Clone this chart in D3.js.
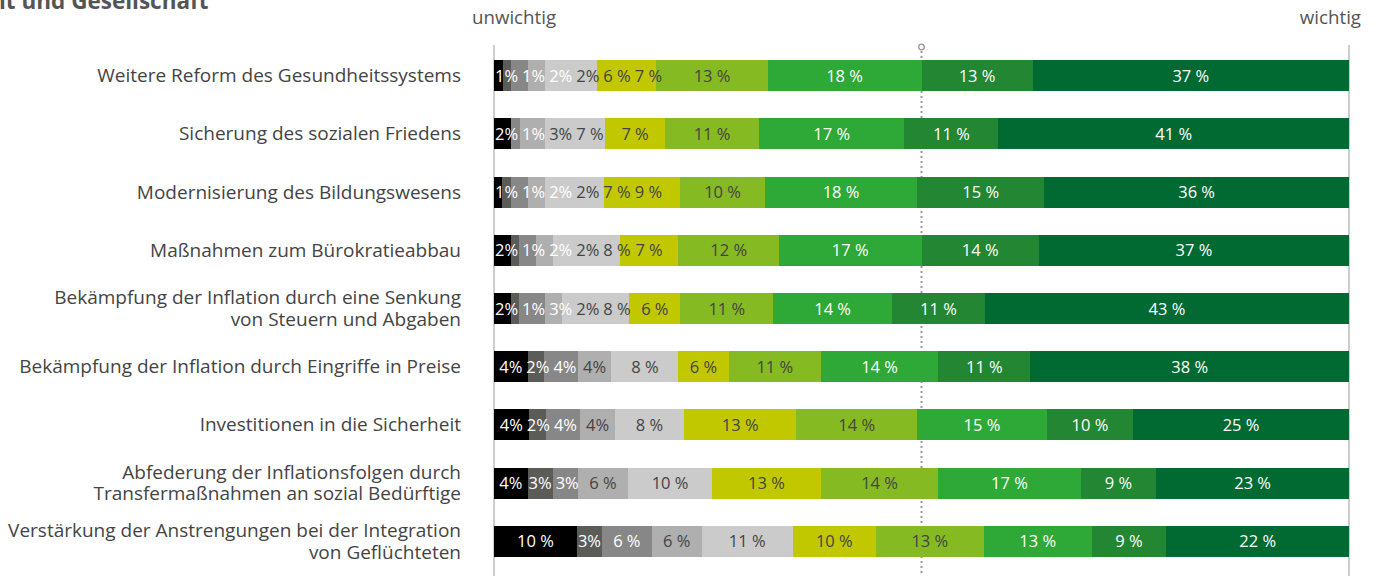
<!DOCTYPE html>
<html><head><meta charset="utf-8">
<script src="https://cdn.jsdelivr.net/npm/d3@7"></script>
<style>
html,body{margin:0;padding:0;background:#fff;}
svg{display:block;font-family:"Open Sans",sans-serif;}
</style></head>
<body><svg id="c" width="1379" height="576"></svg>
<script>
const categories = [
  "Weitere Reform des Gesundheitssystems",
  "Sicherung des sozialen Friedens",
  "Modernisierung des Bildungswesens",
  "Maßnahmen zum Bürokratieabbau",
  "Bekämpfung der Inflation durch eine Senkung\nvon Steuern und Abgaben",
  "Bekämpfung der Inflation durch Eingriffe in Preise",
  "Investitionen in die Sicherheit",
  "Abfederung der Inflationsfolgen durch\nTransfermaßnahmen an sozial Bedürftige",
  "Verstärkung der Anstrengungen bei der Integration\nvon Geflüchteten"
];
// scale points 1 (unwichtig) … 10 (wichtig), percent per row
const scalePoints = [1,2,3,4,5,6,7,8,9,10];
const row1 = [1,1,2,2,6,7,13,18,13,37];
const row2 = [2,0,1,3,7,7,11,17,11,41];
const row3 = [1,1,2,2,7,9,10,18,15,36];
const row4 = [2,1,2,2,8,7,12,17,14,37];
const row5 = [2,1,3,2,8,6,11,14,11,43];
const row6 = [4,2,4,4,8,6,11,14,11,38];
const row7 = [4,2,4,4,8,13,14,15,10,25];
const row8 = [4,3,3,6,10,13,14,17,9,23];
const row9 = [10,3,6,6,11,10,13,13,9,22];
const rows = [row1,row2,row3,row4,row5,row6,row7,row8,row9];
const colors = ["#000000","#5b5b58","#878787","#afafaf","#cacbca","#c2c800","#86ba22","#2ea836","#228633","#006a32"];
const textColors = ["#fff","#fff","#fff","#444","#444","#444","#444","#fff","#fff","#fff"];
const axisLabels = ["unwichtig","wichtig"];
const title = "it und Gesellschaft";

const svg = d3.select("#c");
const x = d3.scaleLinear().domain([0,100]).range([494,1349]);
const y = d3.scalePoint().domain(categories).range([46.4,570.6]).padding(0.5);
const barH = 31;

// title (cut at top-left, as in the source)
svg.append("text").attr("x",-1).attr("y",9).attr("font-size",22.5).attr("font-weight",700)
  .attr("fill","#555").text(title);

// axis end labels
svg.append("text").attr("x",472).attr("y",24).attr("font-size",18.7).attr("fill","#555").text(axisLabels[0]);
svg.append("text").attr("x",1361).attr("y",24).attr("text-anchor","end").attr("font-size",18.7).attr("fill","#555").text(axisLabels[1]);

// frame lines
svg.append("line").attr("x1",x(0)).attr("x2",x(0)).attr("y1",45).attr("y2",576).attr("stroke","#bdbdbd").attr("stroke-width",1.5);
svg.append("line").attr("x1",x(100)).attr("x2",x(100)).attr("y1",45).attr("y2",576).attr("stroke","#bdbdbd").attr("stroke-width",1.5);
// center dotted line
svg.append("line").attr("x1",x(50)).attr("x2",x(50)).attr("y1",51).attr("y2",576)
  .attr("stroke","#999").attr("stroke-width",2).attr("stroke-dasharray","2,3");
svg.append("circle").attr("cx",x(50)).attr("cy",47).attr("r",2.8).attr("fill","#fff").attr("stroke","#999").attr("stroke-width",1.3);

// row labels
categories.forEach(c => {
  const lines = c.split("\n");
  const lh = 21.5;
  lines.forEach((ln,i) => {
    svg.append("text").attr("text-anchor","end").attr("font-size",19).attr("fill","#444")
      .attr("x",461).attr("y", y(c) + 6.5 + (i - (lines.length-1)/2)*lh).text(ln);
  });
});

// bars
rows.forEach((vals, ri) => {
  const cat = categories[ri];
  const total = d3.sum(vals);
  let cum = 0;
  const segs = vals.map((v,i) => { const s = {v, i, x0: cum/total*100, x1: (cum+v)/total*100}; cum += v; return s; });
  const g = svg.append("g");
  g.selectAll("rect").data(segs).join("rect")
    .attr("x", d => x(d.x0)).attr("width", d => x(d.x1)-x(d.x0))
    .attr("y", y(cat)-barH/2).attr("height", barH)
    .attr("fill", d => colors[d.i]).attr("shape-rendering","crispEdges");
  let prevEnd = x(0) + 1;
  segs.filter(d => d.v > 0).forEach(d => {
    const w = x(d.x1)-x(d.x0);
    const txt = w >= 40 ? d.v + " %" : d.v + "%";
    const t = g.append("text").attr("font-size",16.5).attr("fill",textColors[d.i])
      .attr("y", y(cat)+6).text(txt);
    const tw = t.node().getComputedTextLength();
    let sx = (x(d.x0)+x(d.x1))/2 - tw/2;
    sx = Math.max(sx, prevEnd + (prevEnd > x(0)+1 ? 4 : 0));
    t.attr("x", sx);
    prevEnd = sx + tw;
  });
});
</script></body></html>
